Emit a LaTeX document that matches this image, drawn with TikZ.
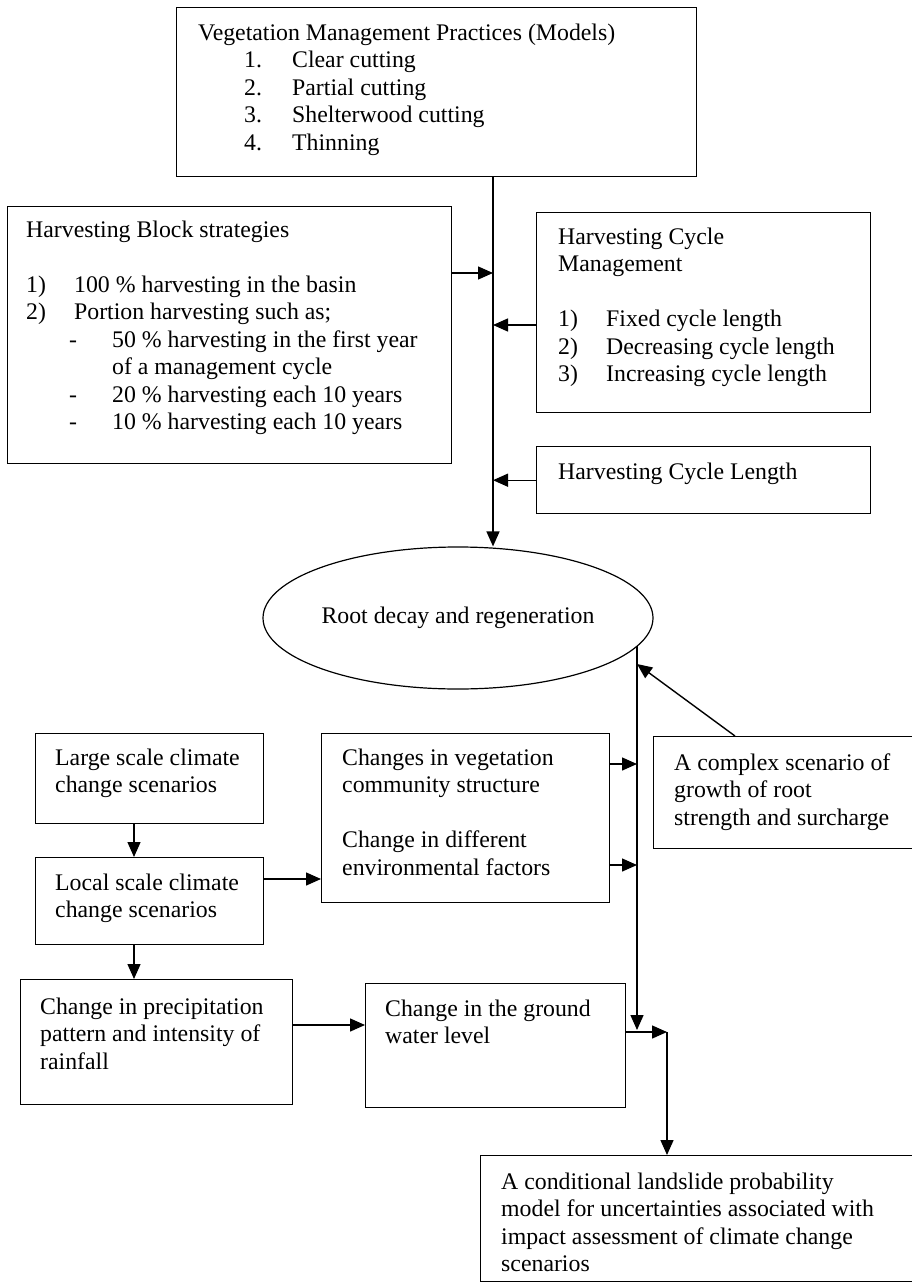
\documentclass[tikz,border=0pt]{standalone}
\usepackage{fontspec}
\setmainfont{Liberation Serif}
\usetikzlibrary{arrows.meta,positioning,shapes.geometric}

\tikzset{
  box/.style={draw, line width=1.4pt, rectangle, anchor=north west, inner sep=0pt},
  txt/.style={anchor=north west, inner sep=0pt, align=left, font=\fontsize{23.8}{27.5}\selectfont},
  arr/.style={line width=1.4pt, -{Triangle[length=15pt,width=13pt]}},
}

\begin{document}
\begin{tikzpicture}[x=1pt, y=-1pt]

    % constants
    \def\spine{493}
    \def\rspine{637}

    \useasboundingbox (0,0) rectangle (911,1284);

    % harvesting boxes
    \node[box, minimum width=520pt, minimum height=169pt] (veg) at (176,7) {};
    \node[box, minimum width=444pt, minimum height=257pt] (block) at (7,206) {};
    \node[box, minimum width=334pt, minimum height=200pt] (cycmgmt) at (536,212) {};
    \node[box, minimum width=334pt, minimum height=67pt] (cyclength) at (536,446) {};

    \node[txt, below right=14pt and 22pt of veg.north west] (vegtext) {\strut Vegetation Management Practices (Models)\\
        \hspace*{46pt}\makebox[48pt][l]{1.}Clear cutting\\
        \hspace*{46pt}\makebox[48pt][l]{2.}Partial cutting\\
        \hspace*{46pt}\makebox[48pt][l]{3.}Shelterwood cutting\\
        \hspace*{46pt}\makebox[48pt][l]{4.}Thinning};
    \node[txt, below right=12pt and 19pt of block.north west] (blocktext) {\strut Harvesting Block strategies\\[27.5pt]
        \makebox[48pt][l]{1)}100 \% harvesting in the basin\\
        \makebox[48pt][l]{2)}Portion harvesting such as;\\
        \hspace*{43pt}\makebox[43pt][l]{-}50 \% harvesting in the first year\\
        \hspace*{86pt}of a management cycle\\
        \hspace*{43pt}\makebox[43pt][l]{-}20 \% harvesting each 10 years\\
        \hspace*{43pt}\makebox[43pt][l]{-}10 \% harvesting each 10 years};
    \node[txt, below right=13pt and 22pt of cycmgmt.north west] (cycmgmttext) {\strut Harvesting Cycle\\
        Management\\[27.5pt]
        \makebox[48pt][l]{1)}Fixed cycle length\\
        \makebox[48pt][l]{2)}Decreasing cycle length\\
        \makebox[48pt][l]{3)}Increasing cycle length};
    \node[txt, below right=14pt and 22pt of cyclength.north west] (cyclengthtext) {\strut Harvesting Cycle Length};

    % root decay
    \node[draw, ellipse, line width=1.2pt, inner sep=0pt, minimum width=390pt, minimum height=142pt,
        font=\fontsize{23.8}{27.5}\selectfont] (root) at (458,618) {Root decay and regeneration};

    % climate boxes
    \node[box, minimum width=228pt, minimum height=90pt] (large) at (35,733) {};
    \node[box, minimum width=288pt, minimum height=169pt] (changes) at (321,733) {};
    \node[box, minimum width=262pt, minimum height=112pt] (complex) at (653,736) {};
    \node[box, minimum width=228pt, minimum height=87pt] (local) at (35,857) {};
    \node[box, minimum width=272pt, minimum height=125pt] (precip) at (20,979) {};
    \node[box, minimum width=260pt, minimum height=124pt] (ground) at (365,983) {};
    \node[box, minimum width=435pt, minimum height=126pt] (cond) at (480,1155) {};

    \node[txt, below right=13pt and 20pt of large.north west] (largetext) {\strut Large scale climate\\ change scenarios};
    \node[txt, below right=13pt and 21pt of changes.north west] (changestext) {\strut Changes in vegetation\\
        community structure\\[27.5pt]
        Change in different\\
        environmental factors};
    \node[txt, below right=15pt and 21pt of complex.north west] (complextext) {\strut A complex scenario of\\
        growth of root\\
        strength and surcharge};
    \node[txt, below right=14pt and 20pt of local.north west] (localtext) {\strut Local scale climate\\ change scenarios};
    \node[txt, below right=16pt and 20pt of precip.north west] (preciptext) {\strut Change in precipitation\\
        pattern and intensity of\\
        rainfall};
    \node[txt, below right=14pt and 20pt of ground.north west] (groundtext) {\strut Change in the ground\\ water level};
    \node[txt, below right=15pt and 21pt of cond.north west] (condtext) {\strut A conditional landslide probability\\
        model for uncertainties associated with\\
        impact assessment of climate change\\
        scenarios};

    % junctions
    \coordinate (jblock) at (\spine,273);
    \coordinate (jcycle) at (\spine,325);
    \coordinate (jcomplex) at (\rspine,664);
    \coordinate (jveg) at (\rspine,764);
    \coordinate (jenv) at (\rspine,865);
    \coordinate (rbottom) at (\rspine,1030);
    \coordinate (lcol) at (134,0);
    \coordinate (jlocal) at (0,879);
    \coordinate (jrain) at (0,1025);
    \coordinate (jout) at (667,1032);

    % harvesting arrows
    \draw[arr] (veg.south -| jblock) -- (jblock |- root.north);
    \draw[arr] (jblock -| block.east) -- (jblock);
    \draw[arr] (jcycle -| cycmgmt.west) -- (jcycle);
    \draw[arr] (cyclength.west) -- (cyclength.west -| jblock);

    % climate arrows
    \draw[arr] (root.-9 -| rbottom) -- (rbottom);
    \draw[arr] ([xshift=82pt]complex.north west) -- (jcomplex);
    \draw[arr] (jveg -| changes.east) -- (jveg);
    \draw[arr] (jenv -| changes.east) -- (jenv);
    \draw[arr] (lcol |- large.south) -- (lcol |- local.north);
    \draw[arr] (jlocal -| local.east) -- (jlocal -| changes.west);
    \draw[arr] (lcol |- local.south) -- (lcol |- precip.north);
    \draw[arr] (jrain -| precip.east) -- (jrain -| ground.west);
    \draw[arr] (jout -| ground.east) -- (jout);
    \draw[arr] (jout) -- (jout |- cond.north);

\end{tikzpicture}
\end{document}
